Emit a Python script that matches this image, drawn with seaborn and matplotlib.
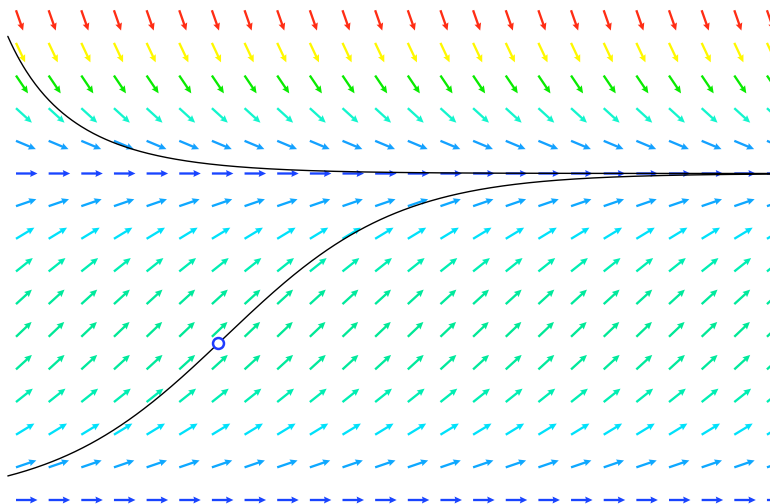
import numpy as np
import matplotlib
matplotlib.use("Agg")
import matplotlib.pyplot as plt
from matplotlib.colors import LinearSegmentedColormap, Normalize
import seaborn as sns

# ---- data ----
t_grid = [0, 1, 2, 3, 4, 5, 6, 7, 8, 9, 10, 11, 12, 13, 14, 15, 16, 17, 18, 19, 20, 21, 22, 23]
y_grid = [0, 1, 2, 3, 4, 5, 6, 7, 8, 9, 10, 11, 12, 13, 14, 15]
growth_rate = 0.38          # r in dy/dt = r*y*(1 - y/K)
capacity = 10.0             # K
upper_start = (-0.25, 14.2)  # initial condition of the decreasing solution
marked_point = (6.2, 4.8)    # initial condition of the increasing solution (circle)
t_end = 23.1

sns.set_theme(style="white")

fig = plt.figure(figsize=(7.7, 5.04), dpi=100)
ax = fig.add_axes([0, 0, 1, 1])

def slope(y):
    return growth_rate * y * (1 - y / capacity)

# direction field
T, Y = np.meshgrid(np.array(t_grid, float), np.array(y_grid, float))
F = slope(Y)
L = 21.5 / 32.65
mag = np.sqrt(1 + F ** 2)
U = L / mag
V = L * F / mag

fmin, fmax = slope(15.0), slope(5.0)
def pos(f):
    return (f - fmin) / (fmax - fmin)

stops = [
    (0.0, (255/255, 45/255, 20/255)),
    (pos(slope(14)), (255/255, 250/255, 0/255)),
    (pos(slope(13)), (10/255, 235/255, 0/255)),
    (pos(slope(12)), (20/255, 245/255, 205/255)),
    (pos(slope(11)), (20/255, 160/255, 255/255)),
    (pos(0.0), (25/255, 65/255, 255/255)),
    (pos(slope(1)), (15/255, 165/255, 255/255)),
    (pos(slope(2)), (0/255, 225/255, 250/255)),
    (pos(slope(3)), (0/255, 238/255, 180/255)),
    (1.0, (0/255, 232/255, 150/255)),
]
cmap = LinearSegmentedColormap.from_list("field", stops)

ax.quiver(T, Y, U, V, F, cmap=cmap, norm=Normalize(fmin, fmax),
          angles="xy", scale_units="xy", scale=1, pivot="tail",
          width=0.003, headwidth=3.0, headlength=3.2, headaxislength=2.9)

# solution curves (closed-form logistic solutions)
def logistic(t, t0, y0):
    return capacity * y0 / (y0 + (capacity - y0) * np.exp(-growth_rate * (t - t0)))

tt = np.linspace(upper_start[0], t_end, 500)
sns.lineplot(x=tt, y=logistic(tt, *upper_start), color="black", linewidth=1.0,
             ax=ax, sort=False, estimator=None)
sns.lineplot(x=tt, y=logistic(tt, *marked_point), color="black", linewidth=1.0,
             ax=ax, sort=False, estimator=None)

sns.scatterplot(x=[marked_point[0]], y=[marked_point[1]], s=62, facecolor="white",
                edgecolor="#1f3cff", linewidth=1.8, ax=ax, zorder=5)

ax.set_xlim(-16 / 32.65, 754 / 32.65)
ax.set_ylim(-4 / 32.65, 500 / 32.65)
ax.set_axis_off()

fig.savefig("out.png", dpi=100)
